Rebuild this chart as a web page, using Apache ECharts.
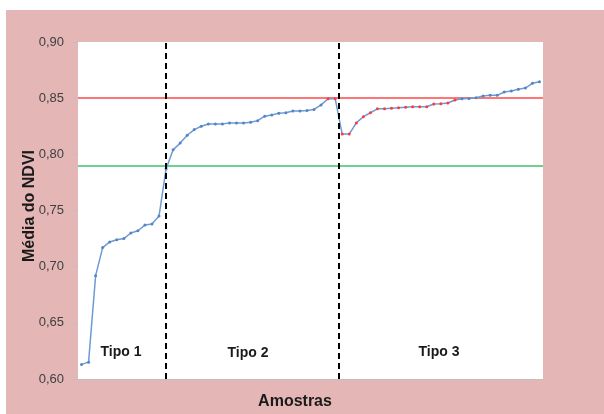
<!DOCTYPE html>
<html>
<head>
<meta charset="utf-8">
<script src="https://cdn.jsdelivr.net/npm/echarts@6/dist/echarts.min.js"></script>
<style>
html,body{margin:0;padding:0;background:#fff;}
#c{width:604px;height:414px;}
</style>
</head>
<body>
<div id="c"></div>
<script>
// Data
const tipo1 = [0.613, 0.615, 0.692, 0.717, 0.722, 0.724, 0.725, 0.730, 0.732, 0.737, 0.738, 0.745, 0.787];
const tipo2 = [0.804, 0.810, 0.817, 0.822, 0.825, 0.827, 0.827, 0.827, 0.828, 0.828, 0.828, 0.8285, 0.830, 0.834, 0.835, 0.8365, 0.837, 0.8385, 0.8385, 0.839, 0.840, 0.844, 0.8495, 0.8495];
const tipo3 = [0.818, 0.818, 0.828, 0.8335, 0.837, 0.8405, 0.8405, 0.841, 0.8415, 0.842, 0.8423, 0.8423, 0.8423, 0.8448, 0.845, 0.8457, 0.8484, 0.8495, 0.8498, 0.8504, 0.852, 0.8525, 0.8525, 0.8555, 0.8564, 0.858, 0.859, 0.8632, 0.8647];
const highlightedRange = [35, 53];      // sample indices shown with red markers
const refUpper = 0.849;                 // red reference line
const refLower = 0.786;                 // green reference line
const groupBoundaries = [12.5, 37];     // dashed separators (in sample units)
const groupLabels = ['Tipo 1', 'Tipo 2', 'Tipo 3'];
const yTicks = [0.60, 0.65, 0.70, 0.75, 0.80, 0.85, 0.90];

const values = tipo1.concat(tipo2, tipo3);
const categories = values.map((v, i) => String(i + 1));
const seriesData = values.map((v, i) => {
  const red = i >= highlightedRange[0] && i <= highlightedRange[1];
  return red ? {value: v, itemStyle: {color: '#FF3A3A', borderColor: '#FF3A3A'}} : v;
});

const chart = echarts.init(document.getElementById('c'), null, {renderer: 'canvas'});
const font = 'Liberation Sans, Arial, sans-serif';
chart.setOption({
  animation: false,
  backgroundColor: '#ffffff',
  grid: {left: 78, top: 42, right: 61, bottom: 35, show: true, backgroundColor: '#ffffff', borderWidth: 0, z: 1},
  xAxis: [{
    type: 'category',
    data: categories,
    boundaryGap: true,
    axisLine: {show: true, lineStyle: {color: '#BFBFBF', width: 1}},
    axisTick: {show: false},
    axisLabel: {show: false},
    splitLine: {show: false}
  }, {
    type: 'value',
    min: 0,
    max: values.length,
    show: false
  }],
  yAxis: {
    type: 'value',
    min: yTicks[0],
    max: yTicks[yTicks.length - 1],
    interval: 0.05,
    axisLine: {show: true, lineStyle: {color: '#BFBFBF', width: 1}},
    axisTick: {show: true, length: 5, lineStyle: {color: '#BFBFBF'}},
    axisLabel: {
      margin: 14,
      color: '#404040',
      fontSize: 13,
      fontFamily: font,
      formatter: v => v.toFixed(2).replace('.', ',')
    },
    splitLine: {show: true, lineStyle: {color: '#D9D9D9', width: 1}}
  },
  graphic: [
    {type: 'rect', z: -100, silent: true, shape: {x: 6, y: 10, width: 598, height: 404}, style: {fill: '#E5B6B6'}},
    {type: 'text', z: 100, x: 121, y: 352, style: {text: groupLabels[0], font: 'bold 14px ' + font, fill: '#1A1A1A', textAlign: 'center', textVerticalAlign: 'middle'}},
    {type: 'text', z: 100, x: 248, y: 353, style: {text: groupLabels[1], font: 'bold 14px ' + font, fill: '#1A1A1A', textAlign: 'center', textVerticalAlign: 'middle'}},
    {type: 'text', z: 100, x: 439, y: 352, style: {text: groupLabels[2], font: 'bold 14px ' + font, fill: '#1A1A1A', textAlign: 'center', textVerticalAlign: 'middle'}},
    {type: 'text', z: 100, x: 295, y: 402, style: {text: 'Amostras', font: 'bold 16px ' + font, fill: '#1A1A1A', textAlign: 'center', textVerticalAlign: 'middle'}},
    {type: 'text', z: 100, x: 30, y: 206, rotation: Math.PI / 2, style: {text: 'Média do NDVI', font: 'bold 16px ' + font, fill: '#1A1A1A', textAlign: 'center', textVerticalAlign: 'middle'}}
  ],
  series: [{
    type: 'line',
    data: seriesData,
    symbol: 'circle',
    symbolSize: 3,
    showAllSymbol: true,
    lineStyle: {color: '#6E9BD4', width: 1.5},
    itemStyle: {color: '#5585C4', borderColor: '#5585C4', borderWidth: 0},
    z: 5,
    markLine: {
      silent: true,
      symbol: 'none',
      label: {show: false},
      z: 3,
      data: [
        {yAxis: refUpper, lineStyle: {color: '#FF4848', width: 1.5, type: 'solid'}},
        {yAxis: refLower, lineStyle: {color: '#3CC36B', width: 1.5, type: 'solid'}}
      ]
    }
  }, {
    type: 'line',
    xAxisIndex: 1,
    data: [],
    z: 6,
    markLine: {
      silent: true,
      symbol: 'none',
      label: {show: false},
      z: 6,
      data: groupBoundaries.map(b => ({xAxis: b, lineStyle: {color: '#000000', width: 2, type: [6, 4]}}))
    }
  }]
});
</script>
</body>
</html>
